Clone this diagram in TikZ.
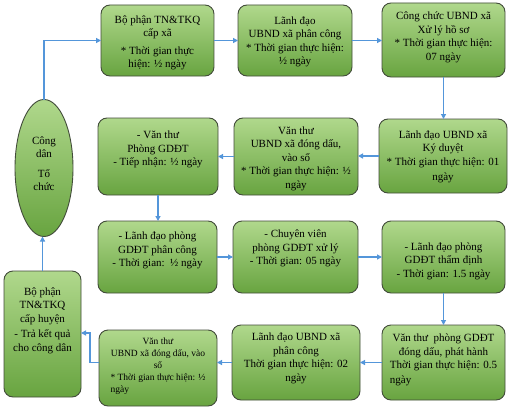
\documentclass[tikz,border=0pt]{standalone}
\usepackage{fontspec}
\setmainfont{Liberation Serif}
\usetikzlibrary{arrows.meta,shapes.geometric}
\definecolor{gtop}{RGB}{176,216,140}
\definecolor{gbot}{RGB}{104,164,64}
\definecolor{bd}{RGB}{66,76,58}
\definecolor{arw}{RGB}{84,150,218}
\begin{document}
\begin{tikzpicture}[x=1pt,y=-1pt,
  box/.style={draw=bd, line width=0.9pt, rounded corners=9pt, top color=gtop, bottom color=gbot, inner sep=0pt, outer sep=0pt},
  txt/.style={align=center, inner sep=0pt, font=\fontsize{11}{13.5}\selectfont},
  smalltxt/.style={align=center, inner sep=0pt, font=\fontsize{9.5}{12}\selectfont},
  arr/.style={draw=arw, line width=1.2pt, -{Triangle[length=5pt,width=5pt]}}]
\fill[white] (0,0) rectangle (516,412);
\useasboundingbox (0,0) rectangle (516,412);

% boxes
\node[box, minimum width=113pt, minimum height=71pt] (A) at (157.5,40.5) {};
\node[box, minimum width=114pt, minimum height=71pt] (B) at (295,40.5) {};
\node[box, minimum width=123pt, minimum height=74pt] (C) at (443.5,40) {};
\node[box, minimum width=128pt, minimum height=74pt] (D) at (443,156) {};
\node[box, minimum width=124pt, minimum height=77pt] (E) at (296,156.5) {};
\node[box, minimum width=120pt, minimum height=77pt] (F) at (158,156.5) {};
\node[box, minimum width=119pt, minimum height=72pt] (G) at (157.5,257) {};
\node[box, minimum width=125pt, minimum height=72pt] (H) at (295.5,257) {};
\node[box, minimum width=123pt, minimum height=72pt] (I) at (443.5,257) {};
\node[box, minimum width=123pt, minimum height=75pt] (J) at (443.5,362.5) {};
\node[box, minimum width=128pt, minimum height=75pt] (K) at (296,362.5) {};
\node[box, minimum width=118pt, minimum height=76pt] (L) at (158,368) {};
\node[box, minimum width=77pt, minimum height=126pt] (M) at (42.5,334) {};
\node[ellipse, draw=bd, line width=0.9pt, top color=gtop, bottom color=gbot, minimum width=58pt, minimum height=137pt, inner sep=0pt, outer sep=0pt] (Cit) at (44,168) {};

% texts
\node[txt] (At) at (157.5,43) {Bộ phận TN\&TKQ\\cấp xã\\[4pt]* Thời gian thực\\hiện: ½ ngày};
\node[txt] (Bt) at (295,42) {Lãnh đạo\\UBND xã phân công\\* Thời gian thực hiện:\\½ ngày};
\node[txt] (Ct) at (443.5,37.5) {Công chức UBND xã\\Xử lý hồ sơ\\* Thời gian thực hiện:\\07 ngày};
\node[txt] (Dt) at (443,157) {Lãnh đạo UBND xã\\Ký duyệt\\* Thời gian thực hiện: 01\\[2pt]ngày};
\node[txt] (Et) at (296,158.5) {Văn thư\\UBND xã đóng dấu,\\vào sổ\\* Thời gian thực hiện: ½\\ngày};
\node[txt] (Ft) at (158,149.5) {- Văn thư\\Phòng GDĐT\\- Tiếp nhận: ½ ngày};
\node[txt] (Gt) at (157.5,250.5) {- Lãnh đạo phòng\\GDĐT phân công\\- Thời gian:\ \ ½ ngày};
\node[txt] (Ht) at (295.5,248.5) {- Chuyên viên\\phòng GDĐT xử lý\\- Thời gian: 05 ngày};
\node[txt] (It) at (443.5,261) {- Lãnh đạo phòng\\GDĐT thẩm định\\- Thời gian: 1.5 ngày};
\node[txt] (Jt) at (443.5,360.5) {Văn thư\ \ phòng GDĐT\\đóng dấu, phát hành\\\begin{tabular}[t]{@{}l@{}}Thời gian thực hiện: 0.5\\[1pt]ngày\end{tabular}};
\node[txt] (Kt) at (296,358.5) {Lãnh đạo UBND xã\\phân công\\Thời gian thực hiện: 02\\ngày};
\node[smalltxt] (Lt) at (158,367) {Văn thư\\UBND xã đóng dấu, vào\\sổ\\\begin{tabular}[t]{@{}l@{}}* Thời gian thực hiện: ½\\ngày\end{tabular}};
\node[txt] (Mt) at (42.5,320.5) {Bộ phận\\TN\&TKQ\\cấp huyện\\[2pt]- Trả kết quả\\cho công dân};
\node[txt] (Citt) at (44,163.5) {Công\\dân\\[6pt]Tổ\\chức};

% connectors
\coordinate (lb) at (90,333);
\draw[arr] (Cit.north) |- (A.west);
\draw[arr] (A.east) -- (A.east -| B.west);
\draw[arr] (B.east) -- (B.east -| C.west);
\draw[arr] (C.south) -- (C.south |- D.north);
\draw[arr] (D.west) -- (D.west -| E.east);
\draw[arr] (E.west) -- (E.west -| F.east);
\draw[arr] (F.south) -- (F.south |- G.north);
\draw[arr] (G.east) -- (G.east -| H.west);
\draw[arr] (H.east) -- (H.east -| I.west);
\draw[arr] (I.south) -- (I.south |- J.north);
\draw[arr] (J.west) -- (J.west -| K.east);
\draw[arr] (K.west) -- (K.west -| L.east);
\draw[arr] (L.west |- K.west) -| (lb) -- (lb -| M.east);
\draw[arr] (M.north) -- (M.north |- Cit.south);
\end{tikzpicture}
\end{document}
